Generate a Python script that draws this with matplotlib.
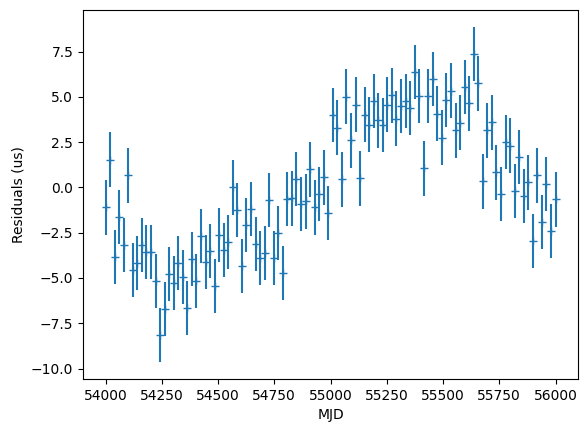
import numpy as np
import matplotlib
matplotlib.use("Agg")
import matplotlib.pyplot as plt

# timing residuals, one point every ~20 days
mjd_start = 54000
mjd_end = 56000
n_points = 100

residuals = [-1.10, 1.54, -3.84, -1.63, -3.19, 0.66, -4.57, -4.18, -3.19, -3.56,
             -3.56, -5.17, -8.15, -6.71, -4.77, -5.27, -4.18, -4.95, -6.66, -3.96,
             -5.17, -2.68, -4.13, -3.51, -5.43, -2.63, -3.45, -3.01, 0.00, -1.25,
             -4.33, -2.09, -1.19, -3.12, -3.91, -3.63, -0.70, -3.91, -2.53, -4.73,
             -0.64, -0.61, 0.46, -0.92, -0.77, 0.99, -1.10, -0.37, 0.55, -1.43,
             3.98, 3.30, 0.44, 5.01, 2.59, 4.57, 0.50, 4.02, 3.47, 4.77,
             3.70, 3.45, 4.57, 5.08, 3.80, 4.51, 4.77, 4.40, 6.36, 5.05,
             1.05, 5.06, 6.00, 4.07, 2.75, 4.84, 5.34, 3.15, 3.58, 5.56,
             4.64, 7.37, 5.74, 0.33, 3.15, 3.59, 0.83, -0.38, 2.49, 2.31,
             -0.20, 1.67, -0.48, 0.28, -2.96, 0.66, -1.91, 0.17, -2.40, -0.66]
errors = [1.5] * n_points

mjd = np.linspace(mjd_start, mjd_end, n_points)

fig = plt.figure(figsize=(5.88, 4.32), dpi=100)
ax = fig.add_axes([0.1412, 0.1227, 0.8418, 0.8543])
ax.errorbar(mjd, residuals, yerr=errors, fmt="+")
ax.set_xlabel("MJD")
ax.set_ylabel("Residuals (us)")
fig.savefig("out.png", dpi=100)
